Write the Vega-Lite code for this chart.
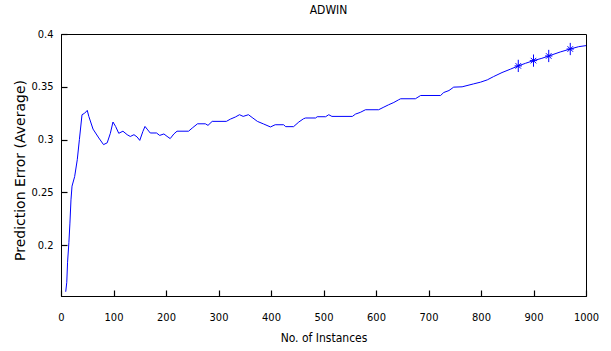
{
  "$schema": "https://vega.github.io/schema/vega-lite/v6.json",
  "autosize": "none",
  "width": 525,
  "height": 262,
  "padding": {"left": 61, "top": 34, "right": 25, "bottom": 55},
  "background": "white",
  "title": {"text": "ADWIN", "fontSize": 12, "fontWeight": "normal", "font": "DejaVu Sans Condensed", "color": "#000", "offset": 11, "dx": 5},
  "config": {
    "view": {"stroke": "#000", "strokeWidth": 1}
  },
  "datasets": {
    "curve": [
      {"x": 9, "y": 0.156}, {"x": 11, "y": 0.165}, {"x": 12.5, "y": 0.184}, {"x": 15, "y": 0.2025},
      {"x": 17, "y": 0.221}, {"x": 19, "y": 0.243}, {"x": 21, "y": 0.256}, {"x": 26, "y": 0.265},
      {"x": 31, "y": 0.281}, {"x": 35, "y": 0.3}, {"x": 40, "y": 0.3236}, {"x": 45, "y": 0.325},
      {"x": 50, "y": 0.3277}, {"x": 53, "y": 0.322}, {"x": 61, "y": 0.31}, {"x": 72, "y": 0.3016},
      {"x": 81, "y": 0.2953}, {"x": 88, "y": 0.297}, {"x": 94, "y": 0.306}, {"x": 99, "y": 0.3167},
      {"x": 104, "y": 0.3125}, {"x": 110, "y": 0.306}, {"x": 118, "y": 0.308}, {"x": 126, "y": 0.3047},
      {"x": 132, "y": 0.303}, {"x": 139, "y": 0.3047}, {"x": 145, "y": 0.3025}, {"x": 150, "y": 0.2993},
      {"x": 156, "y": 0.3078}, {"x": 160, "y": 0.3125}, {"x": 164, "y": 0.31}, {"x": 170, "y": 0.3063},
      {"x": 182, "y": 0.3063}, {"x": 188, "y": 0.304}, {"x": 196, "y": 0.3054}, {"x": 202, "y": 0.3031},
      {"x": 208, "y": 0.301}, {"x": 215, "y": 0.3054}, {"x": 221, "y": 0.308}, {"x": 243, "y": 0.308},
      {"x": 250, "y": 0.311}, {"x": 260, "y": 0.315}, {"x": 275, "y": 0.315}, {"x": 280, "y": 0.3135},
      {"x": 288, "y": 0.3173}, {"x": 315, "y": 0.3173}, {"x": 323, "y": 0.3195}, {"x": 332, "y": 0.3214},
      {"x": 340, "y": 0.3236}, {"x": 347, "y": 0.322}, {"x": 357, "y": 0.3236}, {"x": 364, "y": 0.321},
      {"x": 374, "y": 0.3173}, {"x": 386, "y": 0.3148}, {"x": 399, "y": 0.312}, {"x": 408, "y": 0.3141},
      {"x": 424, "y": 0.3141}, {"x": 428, "y": 0.3123}, {"x": 443, "y": 0.3123}, {"x": 453, "y": 0.3167},
      {"x": 462, "y": 0.3198}, {"x": 466, "y": 0.3205}, {"x": 485, "y": 0.3205}, {"x": 488, "y": 0.3217},
      {"x": 504, "y": 0.3217}, {"x": 510, "y": 0.3236}, {"x": 516, "y": 0.322}, {"x": 555, "y": 0.322},
      {"x": 561, "y": 0.3242}, {"x": 570, "y": 0.3258}, {"x": 580, "y": 0.3283}, {"x": 605, "y": 0.3283},
      {"x": 615, "y": 0.3308}, {"x": 624, "y": 0.333}, {"x": 634, "y": 0.3352}, {"x": 643, "y": 0.3377},
      {"x": 647, "y": 0.3387}, {"x": 675, "y": 0.3387}, {"x": 685, "y": 0.3418}, {"x": 723, "y": 0.3418},
      {"x": 729, "y": 0.3446}, {"x": 739, "y": 0.3465}, {"x": 748, "y": 0.3497}, {"x": 764, "y": 0.35},
      {"x": 786, "y": 0.3528}, {"x": 799, "y": 0.3544}, {"x": 812, "y": 0.3566}, {"x": 824, "y": 0.3597},
      {"x": 840, "y": 0.3635}, {"x": 856, "y": 0.3667}, {"x": 871, "y": 0.3698}, {"x": 885, "y": 0.3723},
      {"x": 900, "y": 0.3748}, {"x": 916, "y": 0.377}, {"x": 929, "y": 0.3792}, {"x": 951, "y": 0.383},
      {"x": 970, "y": 0.3858}, {"x": 986, "y": 0.388}, {"x": 1000, "y": 0.389}
    ],
    "markers": [
      {"x": 871, "y": 0.3698}, {"x": 900, "y": 0.3748}, {"x": 929, "y": 0.3792}, {"x": 970, "y": 0.3858}
    ]
  },
  "layer": [
    {
      "data": {"name": "curve"},
      "mark": {"type": "line", "color": "#0000ff", "strokeWidth": 1},
      "encoding": {
        "x": {"field": "x", "type": "quantitative", "scale": {"domain": [0, 1000], "nice": false, "zero": false},
          "axis": {"title": "No. of Instances", "values": [0,100,200,300,400,500,600,700,800,900,1000], "format": "d", "grid": false, "tickSize": -6, "tickWidth": 1.2, "tickColor": "#000", "domainColor": "#000", "labelColor": "#000", "titleColor": "#000", "labelFont": "DejaVu Sans Condensed", "labelFontSize": 11, "titleFont": "DejaVu Sans Condensed", "titleFontSize": 12, "titleFontWeight": "normal", "labelPadding": 21, "titlePadding": 10, "labelFlush": false}},
        "y": {"field": "y", "type": "quantitative", "scale": {"domain": [0.152, 0.4], "nice": false, "zero": false},
          "axis": {"title": "Prediction Error (Average)", "values": [0.2, 0.25, 0.3, 0.35, 0.4], "format": "~g", "grid": false, "tickSize": -6, "tickWidth": 1.2, "tickColor": "#000", "domainColor": "#000", "labelColor": "#000", "titleColor": "#000", "labelFont": "DejaVu Sans Condensed", "labelFontSize": 11, "titleFont": "DejaVu Sans", "titleFontSize": 14, "titleFontWeight": "normal", "titleY": 136, "labelPadding": 14, "titlePadding": 3, "labelFlush": false}}
      }
    },
    {
      "data": {"name": "markers"},
      "mark": {"type": "point", "shape": "M0,-1L0,1M-0.6,0L0.6,0M-0.45,-0.45L0.45,0.45M-0.45,0.45L0.45,-0.45", "size": 150, "filled": false, "stroke": "#0000ff", "strokeWidth": 1, "opacity": 1},
      "encoding": {
        "x": {"field": "x", "type": "quantitative"},
        "y": {"field": "y", "type": "quantitative"}
      }
    }
  ]
}
